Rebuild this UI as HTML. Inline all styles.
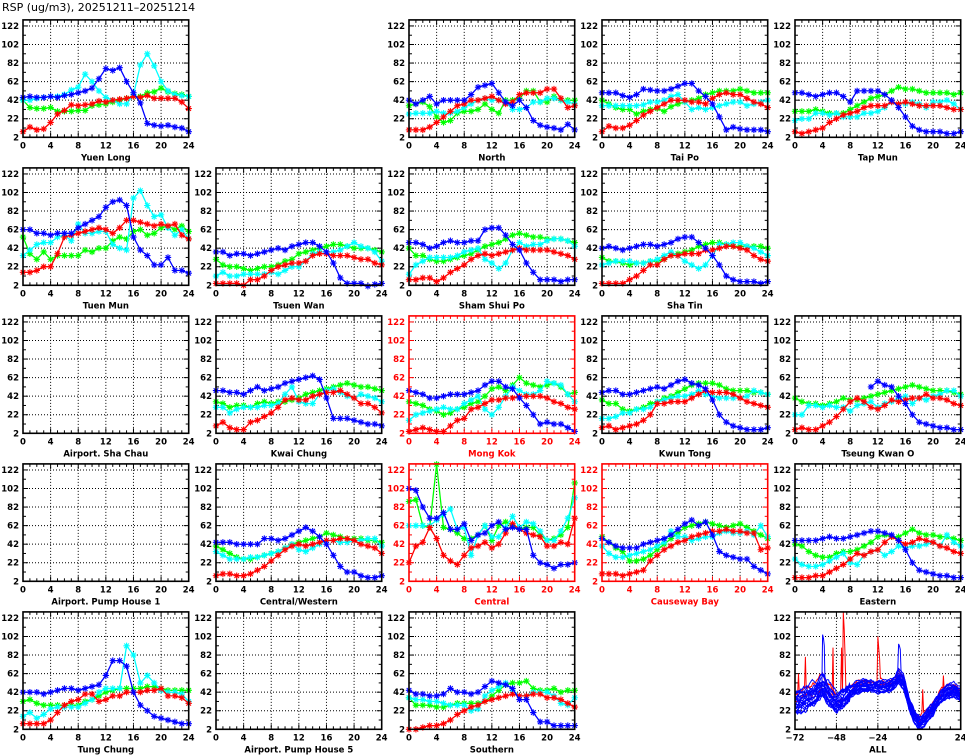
<!DOCTYPE html>
<html><head><meta charset="utf-8"><style>
html,body{margin:0;padding:0;background:#fff;}
svg{display:block;}
text{font-family:"DejaVu Sans","Liberation Sans",sans-serif;}
</style></head><body>
<svg id="s" width="965" height="755" viewBox="0 0 965 755" xmlns="http://www.w3.org/2000/svg">
<rect width="965" height="755" fill="#fff"/>
<text x="2" y="11" font-size="11" font-family="Liberation Sans, sans-serif">RSP (ug/m3), 20251211–20251214</text>
</svg>
<script>
const S=document.getElementById('s');
let out='';
const colX=[23,216,409,602,795], W=165.7, K=0.928;
const rowB=[137.3,285.3,433.3,581.3,729.3];
const n=null;
const P=[
[0,0,"Yuen Long",0,{
B:[45,46,45,45,46,45,47,48,50,52,55,65,76,74,77,62,50,39,17,15,14,15,13,12,8],
C:[42,42,44,45,46,46,48,53,56,70,62,52,45,42,38,38,48,80,92,79,62,52,48,47,46],
G:[42,34,33,33,34,30,30,30,31,31,36,37,38,40,42,44,46,46,50,51,55,51,49,48,46],
R:[8,13,10,11,18,27,31,37,36,37,38,41,40,42,43,44,46,45,47,44,44,44,44,40,33]}],
[0,2,"North",0,{
B:[42,38,42,46,38,42,42,42,42,48,56,58,60,50,40,36,42,34,20,15,13,12,10,16,10],
C:[27,28,28,28,30,28,28,30,34,38,42,44,42,42,40,32,32,34,40,40,44,44,42,40,38],
G:[36,38,40,35,24,18,20,28,30,30,32,38,32,28,42,42,44,52,52,40,40,46,42,42,42],
R:[10,10,10,13,18,24,30,36,38,42,42,44,46,42,38,40,48,50,50,50,54,54,44,34,36]}],
[0,3,"Tai Po",0,{
B:[50,50,50,47,45,48,54,53,52,52,54,57,60,60,52,46,38,24,10,13,11,10,10,10,8],
C:[36,36,36,36,36,36,37,40,40,42,46,48,40,32,34,32,34,36,38,40,40,36,38,40,42],
G:[42,38,34,32,32,27,30,32,33,30,35,38,40,42,44,48,50,52,52,52,54,52,50,50,50],
R:[8,14,12,12,15,20,26,30,34,38,42,42,42,40,40,38,44,48,50,48,48,44,40,38,34]}],
[0,4,"Tap Mun",0,{
B:[50,50,48,46,48,50,50,46,40,52,52,52,52,48,42,34,24,14,10,8,8,8,6,6,8],
C:[20,22,22,28,28,26,28,24,24,24,28,28,30,34,40,38,38,40,38,34,40,40,42,38,32],
G:[30,30,30,32,30,28,28,28,32,36,40,44,46,48,52,56,54,54,52,50,50,50,50,48,50],
R:[8,6,8,10,12,18,22,26,28,30,34,36,36,36,40,38,40,38,36,36,36,36,34,32,32]}],
[1,0,"Tuen Mun",0,{
B:[62,62,58,58,56,58,58,58,64,68,72,76,86,92,94,88,54,40,34,24,24,32,18,18,15],
C:[34,40,46,48,48,54,56,50,68,58,58,60,60,46,42,40,96,104,88,76,78,64,56,62,52],
G:[54,36,30,38,30,34,34,34,34,40,38,42,42,50,54,52,60,62,56,58,64,66,62,66,60],
R:[16,16,18,22,22,36,54,56,58,60,62,64,62,58,64,72,72,70,68,66,68,66,68,56,52]}],
[1,1,"Tsuen Wan",0,{
B:[38,38,34,36,36,34,36,38,40,42,40,44,46,48,48,44,38,26,10,4,4,4,1,3,4],
C:[12,16,12,12,14,14,14,14,16,14,18,22,22,28,36,38,38,38,40,44,48,44,42,38,28],
G:[30,24,22,22,20,18,20,22,22,24,28,30,36,38,40,42,44,46,46,44,42,42,42,40,38],
R:[4,4,4,4,2,8,8,12,18,22,24,26,26,28,34,36,36,34,34,34,32,30,30,26,24]}],
[1,2,"Sham Shui Po",0,{
B:[48,48,46,42,44,48,50,48,48,50,50,62,64,64,56,46,40,26,16,8,8,8,6,8,8],
C:[14,24,28,32,32,32,32,34,38,40,42,30,26,20,26,40,48,44,46,46,50,52,52,50,44],
G:[42,34,34,30,28,28,30,32,34,36,40,44,46,48,52,56,58,56,54,54,52,52,52,50,48],
R:[8,8,10,10,6,10,16,20,24,30,34,36,34,36,38,40,42,40,40,40,40,38,36,34,30]}],
[1,3,"Sha Tin",0,{
B:[42,44,42,40,42,44,46,46,44,46,48,52,54,54,48,42,34,24,12,8,6,6,6,4,6],
C:[24,26,28,28,28,26,26,28,30,34,38,34,28,24,20,24,34,46,46,48,48,44,42,38,34],
G:[32,28,28,26,24,26,26,28,28,30,34,36,38,40,44,46,48,48,46,44,44,44,44,44,42],
R:[4,4,4,4,8,12,18,24,24,30,34,34,36,36,36,40,40,42,44,44,42,40,34,30,28]}],
[2,0,"Airport. Sha Chau",0,null],
[2,1,"Kwai Chung",0,{
B:[48,48,46,46,44,48,52,48,50,52,56,58,60,62,64,60,40,18,18,18,16,14,12,12,10],
C:[30,30,24,28,30,30,30,32,32,34,44,52,36,34,34,44,48,50,46,42,40,44,42,40,36],
G:[36,34,30,32,32,30,34,36,34,36,36,38,40,44,46,48,50,52,54,56,54,52,52,50,48],
R:[10,14,8,6,6,14,16,20,24,30,38,40,38,38,42,44,46,46,48,44,40,34,34,30,24]}],
[2,2,"Mong Kok",1,{
B:[48,46,44,40,40,42,44,44,44,46,48,54,58,58,52,50,40,32,22,12,14,12,12,8,4],
C:[16,22,24,26,28,30,28,28,34,38,42,28,22,30,42,52,48,44,44,48,58,56,54,44,36],
G:[36,34,32,28,26,22,24,28,30,34,36,42,50,52,48,54,62,56,54,52,54,56,52,44,46],
R:[4,6,8,6,4,4,10,16,18,28,30,34,38,38,40,40,42,42,42,42,40,36,34,30,28]}],
[2,3,"Kwun Tong",0,{
B:[46,48,48,44,44,46,48,50,52,50,54,58,60,56,54,50,38,22,14,10,8,6,6,6,8],
C:[18,18,20,24,24,28,28,30,36,38,40,42,42,44,48,44,42,40,40,40,40,42,48,46,44],
G:[38,34,34,28,26,28,30,34,36,40,42,46,50,54,56,56,56,54,50,48,48,48,46,46,44],
R:[8,10,6,8,10,12,16,22,34,34,36,36,36,40,44,48,46,46,46,44,40,36,34,32,30]}],
[2,4,"Tseung Kwan O",0,{
B:[n,n,n,n,n,n,n,n,n,n,n,52,58,54,52,42,34,22,14,12,10,8,8,6,6],
C:[22,22,32,32,30,32,30,30,26,32,34,36,30,34,36,40,42,34,40,38,42,44,48,48,42],
G:[40,36,34,34,32,34,36,40,38,38,40,42,44,46,48,50,52,54,52,50,48,48,48,46,44],
R:[6,8,6,6,10,14,20,28,36,40,36,30,28,32,38,36,38,40,40,44,40,40,38,34,32]}],
[3,0,"Airport. Pump House 1",0,null],
[3,1,"Central/Western",0,{
B:[44,44,44,42,42,42,42,48,48,46,48,52,56,60,56,50,42,30,18,12,12,8,6,6,8],
C:[34,30,26,26,26,28,28,30,32,34,38,42,36,34,38,42,46,46,44,44,46,46,48,48,40],
G:[40,36,32,28,26,26,28,30,32,34,38,42,44,46,48,50,54,52,50,48,48,48,46,46,44],
R:[8,10,10,8,8,10,14,18,24,30,36,40,42,40,42,44,46,46,48,48,46,42,40,38,32]}],
[3,2,"Central",1,{
B:[102,100,82,70,70,76,58,58,64,46,52,54,62,66,58,60,58,58,30,22,20,16,20,20,22],
C:[62,62,62,62,68,74,80,58,60,30,52,62,50,50,60,72,60,66,64,56,46,46,56,70,92],
G:[88,90,62,60,128,60,58,54,48,48,52,62,46,62,66,62,58,60,60,52,46,48,52,60,108],
R:[22,40,44,60,48,30,24,20,30,38,40,44,38,42,54,64,58,54,52,50,40,40,44,42,70]}],
[3,3,"Causeway Bay",1,{
B:[48,44,40,38,38,38,42,44,46,48,52,58,64,68,62,66,52,34,30,28,26,26,18,14,10],
C:[40,32,28,28,30,32,34,36,40,44,56,50,50,46,48,50,50,54,56,54,54,56,52,62,50],
G:[50,44,38,34,24,24,26,30,36,42,48,54,60,62,64,66,64,62,60,62,64,60,56,52,48],
R:[10,10,10,8,10,12,14,24,30,36,40,44,46,50,52,54,56,56,58,56,56,54,54,36,38]}],
[3,4,"Eastern",0,{
B:[46,46,46,46,48,50,48,48,50,52,54,56,56,54,52,46,36,22,14,12,10,8,8,6,6],
C:[26,20,18,18,20,24,28,32,22,20,30,34,36,30,34,40,38,40,40,42,44,40,52,44,40],
G:[42,40,34,30,28,28,32,34,34,36,40,44,50,52,50,50,54,58,54,52,52,50,50,48,46],
R:[6,6,6,8,8,12,16,20,26,32,30,34,36,44,50,46,42,44,48,46,44,40,38,34,32]}],
[4,0,"Tung Chung",0,{
B:[42,42,42,40,42,44,46,46,44,46,48,50,60,76,76,70,42,28,22,16,14,12,10,8,8],
C:[16,20,14,18,24,26,26,26,26,30,34,42,46,46,46,92,82,52,60,52,44,42,42,40,32],
G:[32,34,30,28,28,28,28,28,28,32,34,38,42,44,46,46,46,46,48,48,46,44,44,44,44],
R:[8,8,8,8,12,20,28,32,34,40,40,32,34,38,38,42,42,42,44,44,46,38,38,36,30]}],
[4,1,"Airport. Pump House 5",0,null],
[4,2,"Southern",0,{
B:[44,40,40,38,38,40,46,42,42,40,42,48,54,52,50,46,34,34,20,10,10,6,6,6,6],
C:[36,34,34,32,32,30,28,28,28,22,24,38,44,48,52,44,38,38,42,42,42,38,30,28,36],
G:[36,28,28,28,26,26,28,30,30,30,30,32,38,44,50,52,52,54,46,44,44,46,42,44,44],
R:[2,2,4,6,6,8,12,18,22,26,28,32,34,36,38,40,38,38,40,40,36,36,34,30,26]}],
[4,4,"ALL",0,"ALL"]
];
const COL={R:'#ff0000',G:'#00ff00',C:'#00ffff',B:'#0000ff'};
function star(x,y,c){const r=3.2,d=2.3;return `<path d="M${x-r} ${y}h${2*r}M${x} ${y-r}v${2*r}M${x-d} ${y-d}l${2*d} ${2*d}M${x-d} ${y+d}l${2*d} ${-2*d}" stroke="${c}" stroke-width="1.1"/>`;}
let seed=7;function rnd(){seed=(seed*16807)%2147483647;return seed/2147483647;}
for(const [r,c,name,red,data] of P){
  const x0=colX[c], yb=rowB[r], x1=x0+W;
  const Y=v=>yb-(v-2)*K; const yt=Y(128.5);
  const all=data==='ALL'; const xmin=all?-72:0, xmax=24;
  const X=h=>x0+(h-xmin)/(xmax-xmin)*W;
  const fc=red?'#ff0000':'#000';
  let g='';
  const step=all?24:4;
  for(let h=xmin+step;h<xmax;h+=step) g+=`<line x1="${X(h)}" y1="${yt}" x2="${X(h)}" y2="${yb}" stroke="#000" stroke-width="1" stroke-dasharray="1,2"/>`;
  for(let v=22;v<=122;v+=20) g+=`<line x1="${x0}" y1="${Y(v)}" x2="${x1}" y2="${Y(v)}" stroke="#000" stroke-width="1" stroke-dasharray="1,2"/>`;
  const mstep=all?6:1;
  for(let h=xmin;h<=xmax;h+=mstep){const L=(h-xmin)%step===0?5:3;g+=`<line x1="${X(h)}" y1="${yb}" x2="${X(h)}" y2="${yb-L}" stroke="${fc}"/><line x1="${X(h)}" y1="${yt}" x2="${X(h)}" y2="${yt+L}" stroke="${fc}"/>`;}
  for(let v=2;v<=122;v+=10){const L=(v-2)%20===0?5:3;g+=`<line x1="${x0}" y1="${Y(v)}" x2="${x0+L}" y2="${Y(v)}" stroke="${fc}"/><line x1="${x1}" y1="${Y(v)}" x2="${x1-L}" y2="${Y(v)}" stroke="${fc}"/>`;}
  out+=g;
  if(data && !all){
    for(const k of ['G','C','R','B']){
      const a=data[k];let d='';let m='';let pen=false;
      a.forEach((v,i)=>{if(v==null){pen=false;return;}const px=X(i),py=Y(Math.min(v,128.5));d+=(pen?'L':'M')+px.toFixed(1)+' '+py.toFixed(1);pen=true;m+=star(px,py,COL[k]);});
      out+=`<path d="${d}" fill="none" stroke="${COL[k]}" stroke-width="1.3"/>`+m;
    }
  }
  if(all){
    const base=[[-72,30],[-66,34],[-60,40],[-56,48],[-52,38],[-48,30],[-44,34],[-40,42],[-34,48],[-28,48],[-24,47],[-18,48],[-14,52],[-12,58],[-9,52],[-6,30],[-3,16],[0,8],[3,12],[8,24],[12,36],[16,42],[20,44],[24,38]];
    const bi=h=>{for(let i=0;i<base.length-1;i++){if(h<=base[i+1][0]){const t=(h-base[i][0])/(base[i+1][0]-base[i][0]);return base[i][1]+t*(base[i+1][1]-base[i][1]);}}return 38;};
    const line=(col,amp,off,spikes,lw)=>{let d='';let prev=0;for(let h=-72;h<=24;h+=0.5){prev=prev*0.85+(rnd()-0.5)*amp;const w=h<-40?1:0.6;let v=bi(h)+off*w+prev*w;if(spikes&&spikes[h]!=null)v=spikes[h];v=Math.max(3,Math.min(128.5,v));d+=(h==-72?'M':'L')+X(h).toFixed(1)+' '+Y(v).toFixed(1);}return `<path d="${d}" fill="none" stroke="${col}" stroke-width="${lw||1}"/>`;};
    let reds='';
    reds+=line('#ff0000',5,10,{'-70':62,'-66':80,'-45':90,'-44':128,'-43.5':110,'-43':80,'-24':102,'-23.5':90,'-23':78,'-12':68,'2':45},1);
    reds+=line('#ff0000',4,2,{'-50':90,'14':60});
    let blues='';
    for(let i=0;i<20;i++){blues+=line('#0000ff',4,(rnd()-0.5)*24,i==0?{'-56':104,'-55.5':100,'-55':92}:(i==1?{'-12':94,'-11.5':92,'-11':88}:null));}
    out+=reds+blues;
  }
  out+=`<rect x="${x0}" y="${yt}" width="${W}" height="${yb-yt}" fill="none" stroke="${fc}" stroke-width="1.6"/>`;
  for(let v=2;v<=122;v+=20) out+=`<text x="${x0-4}" y="${Y(v)+3}" font-size="8.5" font-weight="bold" text-anchor="end" fill="${fc}">${v}</text>`;
  for(let h=xmin;h<=xmax;h+=step) out+=`<text x="${X(h)}" y="${yb+11}" font-size="8.5" font-weight="bold" text-anchor="middle" fill="${fc}">${h<0?'−'+(-h):h}</text>`;
  out+=`<text x="${x0+W/2}" y="${yb+23}" font-size="8.5" font-weight="bold" text-anchor="middle" fill="${fc}">${name}</text>`;
}
S.insertAdjacentHTML('beforeend',out);
</script>
</body></html>
